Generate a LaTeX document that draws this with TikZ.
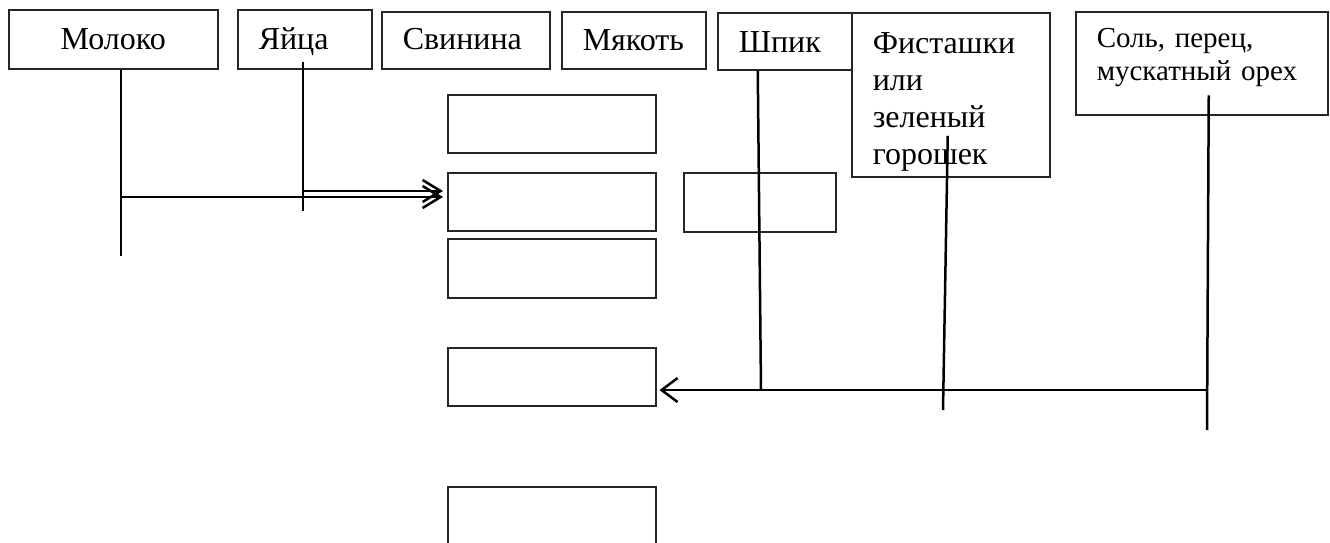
\documentclass[tikz,border=0pt]{standalone}
\usepackage{fontspec}
\setmainfont{Liberation Serif}
\usetikzlibrary{arrows.meta,calc}
\tikzset{
  box/.style={draw=black!85, line width=1.5pt, anchor=north west, inner ysep=0pt, inner xsep=21pt,
    align=left, font=\fontsize{32}{37}\selectfont},
  ebox/.style={draw=black!85, line width=1.5pt, anchor=north west, inner sep=0pt, minimum width=208pt},
  conn/.style={draw=black, line width=2.5pt},
  arrA/.style={conn, -{Straight Barb[length=18pt,width=22pt]}},
  arrB/.style={conn, -{Straight Barb[length=16pt,width=24pt]}},
}
\begin{document}
\begin{tikzpicture}[x=1pt,y=-1pt]
\useasboundingbox (0,0) rectangle (1330,542);
\clip (0,0) rectangle (1330,542);
% top boxes
\node[box, align=center, text width=167pt, text height=40pt, text depth=19pt] (moloko) at (8,9) {Молоко};
\node[box, text width=92pt, text height=40pt, text depth=19pt] (yaica) at (237,9) {Яйца};
\node[box, text width=126pt, text height=38pt, text depth=19pt] (svinina) at (381,11) {Свинина};
\node[box, text width=102pt, text height=39pt, text depth=18pt] (myakot) at (561,11) {Мякоть};
\node[box, text width=92pt, text height=39.5pt, text depth=17.5pt] (shpik) at (717,12) {Шпик};
\node[box, text width=156pt, text height=41pt, text depth=123pt] (fist) at (851,12) {Фисташки\\или\\зеленый\\горошек};
\node[box, font=\fontsize{29}{33}\selectfont, text width=210pt, text height=36pt, text depth=67pt] (sol) at (1075,11) {Соль, перец,\\мускатный орех};
% middle column
\node[ebox, minimum height=58pt] (b1) at (447,94) {};
\node[ebox, minimum height=58pt] (b2) at (447,172) {};
\node[ebox, minimum height=59pt] (b3) at (447,238) {};
\node[ebox, minimum height=58pt] (b4) at (447,347) {};
\node[ebox, minimum height=62pt] (b5) at (447,486) {};
\node[ebox, minimum width=152pt, minimum height=59pt] (s1) at (683,172) {};
% coordinates (y grows downwards)
\coordinate (mE) at (121,256);
\coordinate (mJ) at (121,197);
\coordinate (eE) at (303,211);
\coordinate (eJ) at (303,191);
\coordinate (shJ) at (761,390);
\coordinate (fE) at (943,410);
\coordinate (sE) at (1207,430);
\coordinate (sJ) at (1207,390);
% connectors
\draw[conn] (moloko.south -| mE) -- (mE);
\draw[conn] ($(yaica.south -| eE)+(0,-8)$) -- (eE);
\draw[arrA, shorten >=4pt] (mJ) -- (mJ -| b2.west);
\draw[arrA, shorten >=4pt] (eJ) -- (eJ -| b2.west);
\draw[conn] ($(shpik.south)+(-27,0)$) -- (shJ);
\draw[conn] ($(fist.center)+(-3,41)$) -- (fE);
\draw[conn] ($(sol.center)+(7,32)$) -- (sE);
\draw[arrB, shorten >=3pt] (sJ) -- (sJ -| b4.east);
\end{tikzpicture}
\end{document}
